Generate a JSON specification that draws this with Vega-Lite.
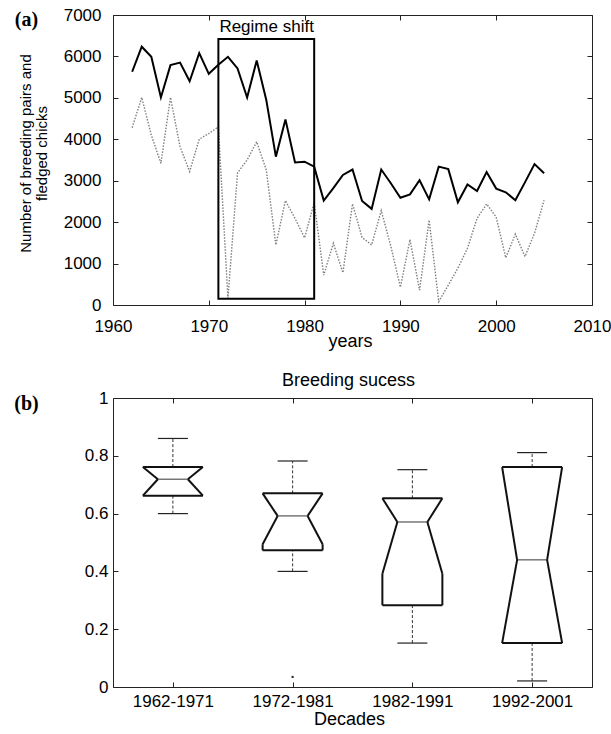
{
  "$schema": "https://vega.github.io/schema/vega-lite/v6.json",
  "padding": {"left": 13, "top": 6, "right": 0, "bottom": 0},
  "spacing": 21,
  "config": {
    "font": "Liberation Sans",
    "view": {"stroke": null},
    "axis": {
      "grid": false,
      "domainColor": "#222",
      "domainWidth": 1,
      "tickColor": "#222",
      "tickSize": -5,
      "labelFont": "Liberation Sans",
      "labelFontSize": 17,
      "labelColor": "#000",
      "titleFont": "Liberation Sans",
      "titleFontSize": 18,
      "titleFontWeight": "normal",
      "titleColor": "#000"
    }
  },
  "datasets": {
    "pairs": [
      {"year": 1962, "breeding_pairs": 5630, "fledged_chicks": 4280},
      {"year": 1963, "breeding_pairs": 6235, "fledged_chicks": 5010},
      {"year": 1964, "breeding_pairs": 5990, "fledged_chicks": 4100},
      {"year": 1965, "breeding_pairs": 5010, "fledged_chicks": 3420},
      {"year": 1966, "breeding_pairs": 5790, "fledged_chicks": 5010},
      {"year": 1967, "breeding_pairs": 5850, "fledged_chicks": 3820},
      {"year": 1968, "breeding_pairs": 5400, "fledged_chicks": 3220},
      {"year": 1969, "breeding_pairs": 6080, "fledged_chicks": 4000},
      {"year": 1970, "breeding_pairs": 5580, "fledged_chicks": 4140},
      {"year": 1971, "breeding_pairs": 5800, "fledged_chicks": 4300},
      {"year": 1972, "breeding_pairs": 5990, "fledged_chicks": 160},
      {"year": 1973, "breeding_pairs": 5710, "fledged_chicks": 3190},
      {"year": 1974, "breeding_pairs": 5010, "fledged_chicks": 3500},
      {"year": 1975, "breeding_pairs": 5900, "fledged_chicks": 3940},
      {"year": 1976, "breeding_pairs": 4950, "fledged_chicks": 3260},
      {"year": 1977, "breeding_pairs": 3580, "fledged_chicks": 1450},
      {"year": 1978, "breeding_pairs": 4480, "fledged_chicks": 2520},
      {"year": 1979, "breeding_pairs": 3440, "fledged_chicks": 2090},
      {"year": 1980, "breeding_pairs": 3460, "fledged_chicks": 1620},
      {"year": 1981, "breeding_pairs": 3340, "fledged_chicks": 2470},
      {"year": 1982, "breeding_pairs": 2520, "fledged_chicks": 720},
      {"year": 1983, "breeding_pairs": 2820, "fledged_chicks": 1490},
      {"year": 1984, "breeding_pairs": 3140, "fledged_chicks": 780},
      {"year": 1985, "breeding_pairs": 3270, "fledged_chicks": 2440},
      {"year": 1986, "breeding_pairs": 2510, "fledged_chicks": 1630},
      {"year": 1987, "breeding_pairs": 2320, "fledged_chicks": 1450},
      {"year": 1988, "breeding_pairs": 3270, "fledged_chicks": 2280},
      {"year": 1989, "breeding_pairs": 2940, "fledged_chicks": 1420},
      {"year": 1990, "breeding_pairs": 2590, "fledged_chicks": 430},
      {"year": 1991, "breeding_pairs": 2670, "fledged_chicks": 1580},
      {"year": 1992, "breeding_pairs": 3010, "fledged_chicks": 360},
      {"year": 1993, "breeding_pairs": 2550, "fledged_chicks": 2050},
      {"year": 1994, "breeding_pairs": 3340, "fledged_chicks": 80},
      {"year": 1995, "breeding_pairs": 3280, "fledged_chicks": 480},
      {"year": 1996, "breeding_pairs": 2480, "fledged_chicks": 890},
      {"year": 1997, "breeding_pairs": 2910, "fledged_chicks": 1370},
      {"year": 1998, "breeding_pairs": 2750, "fledged_chicks": 2090},
      {"year": 1999, "breeding_pairs": 3210, "fledged_chicks": 2440},
      {"year": 2000, "breeding_pairs": 2810, "fledged_chicks": 2120},
      {"year": 2001, "breeding_pairs": 2720, "fledged_chicks": 1140},
      {"year": 2002, "breeding_pairs": 2530, "fledged_chicks": 1710},
      {"year": 2003, "breeding_pairs": 2960, "fledged_chicks": 1170},
      {"year": 2004, "breeding_pairs": 3400, "fledged_chicks": 1730},
      {"year": 2005, "breeding_pairs": 3180, "fledged_chicks": 2530}
    ],
    "regime": [
      {"start": 1971, "end": 1981, "low": 150, "high": 6420, "label": "Regime shift"}
    ],
    "stats": [
      {"decade": "1962-1971", "whisker_low": 0.60, "q1": 0.662, "notch_low": 0.662, "median": 0.719, "notch_high": 0.761, "q3": 0.761, "whisker_high": 0.86},
      {"decade": "1972-1981", "whisker_low": 0.40, "q1": 0.473, "notch_low": 0.494, "median": 0.592, "notch_high": 0.670, "q3": 0.670, "whisker_high": 0.782},
      {"decade": "1982-1991", "whisker_low": 0.152, "q1": 0.283, "notch_low": 0.392, "median": 0.571, "notch_high": 0.653, "q3": 0.653, "whisker_high": 0.752},
      {"decade": "1992-2001", "whisker_low": 0.021, "q1": 0.152, "notch_low": 0.152, "median": 0.440, "notch_high": 0.761, "q3": 0.761, "whisker_high": 0.811}
    ],
    "outliers": [
      {"decade": "1972-1981", "value": 0.035}
    ]
  },
  "vconcat": [
    {
      "width": 479,
      "height": 290,
      "resolve": {"axis": {"x": "independent", "y": "independent"}},
      "layer": [
        {
          "data": {"name": "pairs"},
          "mark": {"type": "line", "color": "#000", "strokeWidth": 2},
          "encoding": {
            "x": {"field": "year", "type": "quantitative",
                  "scale": {"domain": [1960, 2010], "nice": false, "zero": false},
                  "axis": {"orient": "bottom", "values": [1960, 1970, 1980, 1990, 2000, 2010], "format": "d",
                           "labelFlush": false, "labelPadding": 18,
                           "title": "years", "titleBaseline": "alphabetic", "titleX": 237, "titleY": 41}},
            "y": {"field": "breeding_pairs", "type": "quantitative",
                  "scale": {"domain": [0, 7000], "nice": false},
                  "axis": {"orient": "left", "values": [0, 1000, 2000, 3000, 4000, 5000, 6000, 7000], "format": "d",
                           "labelPadding": 17,
                           "title": ["Number of breeding pairs and", "fledged chicks"],
                           "titleFontSize": 15, "titleLineHeight": 16, "titleAngle": -90,
                           "titleBaseline": "middle", "titleAlign": "center", "titleX": -88, "titleY": 138}}
          }
        },
        {
          "data": {"name": "pairs"},
          "mark": {"type": "line", "color": "#7f7f7f", "strokeWidth": 1.4, "strokeDash": [1.5, 1.5]},
          "encoding": {
            "x": {"field": "year", "type": "quantitative",
                  "axis": {"orient": "top", "values": [1960, 1970, 1980, 1990, 2000, 2010], "labels": false,
                           "title": "(a)", "titleFont": "Liberation Serif", "titleFontWeight": "bold", "titleFontSize": 20,
                           "titleAngle": 0, "titleAlign": "center", "titleBaseline": "middle", "titleX": -87, "titleY": 4}},
            "y": {"field": "fledged_chicks", "type": "quantitative",
                  "axis": {"orient": "right", "values": [0, 1000, 2000, 3000, 4000, 5000, 6000, 7000], "labels": false, "title": null}}
          }
        },
        {
          "data": {"name": "regime"},
          "mark": {"type": "rect", "fill": null, "fillOpacity": 0, "stroke": "#000", "strokeWidth": 2},
          "encoding": {
            "x": {"field": "start", "type": "quantitative", "axis": null},
            "x2": {"field": "end"},
            "y": {"field": "low", "type": "quantitative", "axis": null},
            "y2": {"field": "high"}
          }
        },
        {
          "data": {"name": "regime"},
          "mark": {"type": "text", "align": "left", "baseline": "alphabetic", "dx": 1, "dy": -7, "fontSize": 17, "font": "Liberation Sans", "color": "#000"},
          "encoding": {
            "x": {"field": "start", "type": "quantitative", "axis": null},
            "y": {"field": "high", "type": "quantitative", "axis": null},
            "text": {"field": "label"}
          }
        }
      ]
    },
    {
      "width": 479,
      "height": 289,
      "data": {"name": "stats"},
      "resolve": {"axis": {"x": "independent", "y": "independent"}},
      "layer": [
        {
          "mark": {"type": "rule", "color": "#333", "strokeWidth": 1, "strokeDash": [3, 2]},
          "encoding": {
            "x": {"field": "decade", "type": "nominal", "sort": null,
                  "scale": {"type": "point", "padding": 0.5},
                  "axis": {"orient": "bottom", "labelAngle": 0, "labelPadding": 11,
                           "title": "Decades", "titleBaseline": "alphabetic", "titleX": 236, "titleY": 37}},
            "y": {"field": "whisker_low", "type": "quantitative",
                  "scale": {"domain": [0, 1], "nice": false},
                  "axis": {"orient": "left", "values": [0, 0.2, 0.4, 0.6, 0.8, 1], "format": "~g", "labelPadding": 10,
                           "title": "(b)", "titleFont": "Liberation Serif", "titleFontWeight": "bold", "titleFontSize": 20,
                           "titleAngle": 0, "titleAlign": "center", "titleBaseline": "middle", "titleX": -87, "titleY": 5}},
            "y2": {"field": "q1"}
          }
        },
        {
          "mark": {"type": "rule", "color": "#333", "strokeWidth": 1, "strokeDash": [3, 2]},
          "encoding": {
            "x": {"field": "decade", "type": "nominal", "sort": null,
                  "axis": {"orient": "top", "labels": false,
                           "title": "Breeding sucess", "titleBaseline": "alphabetic", "titleAngle": 0, "titleAlign": "center",
                           "titleX": 235, "titleY": -12.5}},
            "y": {"field": "q3", "type": "quantitative",
                  "axis": {"orient": "right", "values": [0, 0.2, 0.4, 0.6, 0.8, 1], "labels": false, "title": null}},
            "y2": {"field": "whisker_high"}
          }
        },
        {
          "mark": {"type": "rule", "color": "#222", "strokeWidth": 1.2, "xOffset": -15, "x2Offset": 15},
          "encoding": {
            "x": {"field": "decade", "type": "nominal", "sort": null, "axis": null},
            "x2": {"field": "decade"},
            "y": {"field": "whisker_low", "type": "quantitative", "axis": null}
          }
        },
        {
          "mark": {"type": "rule", "color": "#222", "strokeWidth": 1.2, "xOffset": -15, "x2Offset": 15},
          "encoding": {
            "x": {"field": "decade", "type": "nominal", "sort": null, "axis": null},
            "x2": {"field": "decade"},
            "y": {"field": "whisker_high", "type": "quantitative", "axis": null}
          }
        },
        {
          "mark": {"type": "rule", "color": "#111", "strokeWidth": 2, "xOffset": -30, "x2Offset": 30},
          "encoding": {
            "x": {"field": "decade", "type": "nominal", "sort": null, "axis": null},
            "x2": {"field": "decade"},
            "y": {"field": "q1", "type": "quantitative", "axis": null}
          }
        },
        {
          "mark": {"type": "rule", "color": "#111", "strokeWidth": 2, "xOffset": -30, "x2Offset": 30},
          "encoding": {
            "x": {"field": "decade", "type": "nominal", "sort": null, "axis": null},
            "x2": {"field": "decade"},
            "y": {"field": "q3", "type": "quantitative", "axis": null}
          }
        },
        {
          "mark": {"type": "rule", "color": "#555", "strokeWidth": 1.2, "xOffset": -15, "x2Offset": 15},
          "encoding": {
            "x": {"field": "decade", "type": "nominal", "sort": null, "axis": null},
            "x2": {"field": "decade"},
            "y": {"field": "median", "type": "quantitative", "axis": null}
          }
        },
        {
          "mark": {"type": "rule", "color": "#111", "strokeWidth": 2, "xOffset": -30, "x2Offset": -30},
          "encoding": {
            "x": {"field": "decade", "type": "nominal", "sort": null, "axis": null},
            "x2": {"field": "decade"},
            "y": {"field": "q1", "type": "quantitative", "axis": null},
            "y2": {"field": "notch_low"}
          }
        },
        {
          "mark": {"type": "rule", "color": "#111", "strokeWidth": 2, "xOffset": 30, "x2Offset": 30},
          "encoding": {
            "x": {"field": "decade", "type": "nominal", "sort": null, "axis": null},
            "x2": {"field": "decade"},
            "y": {"field": "q1", "type": "quantitative", "axis": null},
            "y2": {"field": "notch_low"}
          }
        },
        {
          "mark": {"type": "rule", "color": "#111", "strokeWidth": 2, "xOffset": -30, "x2Offset": -30},
          "encoding": {
            "x": {"field": "decade", "type": "nominal", "sort": null, "axis": null},
            "x2": {"field": "decade"},
            "y": {"field": "notch_high", "type": "quantitative", "axis": null},
            "y2": {"field": "q3"}
          }
        },
        {
          "mark": {"type": "rule", "color": "#111", "strokeWidth": 2, "xOffset": 30, "x2Offset": 30},
          "encoding": {
            "x": {"field": "decade", "type": "nominal", "sort": null, "axis": null},
            "x2": {"field": "decade"},
            "y": {"field": "notch_high", "type": "quantitative", "axis": null},
            "y2": {"field": "q3"}
          }
        },
        {
          "mark": {"type": "rule", "color": "#111", "strokeWidth": 2, "xOffset": -30, "x2Offset": -15},
          "encoding": {
            "x": {"field": "decade", "type": "nominal", "sort": null, "axis": null},
            "x2": {"field": "decade"},
            "y": {"field": "notch_high", "type": "quantitative", "axis": null},
            "y2": {"field": "median"}
          }
        },
        {
          "mark": {"type": "rule", "color": "#111", "strokeWidth": 2, "xOffset": 30, "x2Offset": 15},
          "encoding": {
            "x": {"field": "decade", "type": "nominal", "sort": null, "axis": null},
            "x2": {"field": "decade"},
            "y": {"field": "notch_high", "type": "quantitative", "axis": null},
            "y2": {"field": "median"}
          }
        },
        {
          "mark": {"type": "rule", "color": "#111", "strokeWidth": 2, "xOffset": -30, "x2Offset": -15},
          "encoding": {
            "x": {"field": "decade", "type": "nominal", "sort": null, "axis": null},
            "x2": {"field": "decade"},
            "y": {"field": "notch_low", "type": "quantitative", "axis": null},
            "y2": {"field": "median"}
          }
        },
        {
          "mark": {"type": "rule", "color": "#111", "strokeWidth": 2, "xOffset": 30, "x2Offset": 15},
          "encoding": {
            "x": {"field": "decade", "type": "nominal", "sort": null, "axis": null},
            "x2": {"field": "decade"},
            "y": {"field": "notch_low", "type": "quantitative", "axis": null},
            "y2": {"field": "median"}
          }
        },
        {
          "data": {"name": "outliers"},
          "mark": {"type": "point", "filled": true, "color": "#333", "size": 6, "opacity": 1},
          "encoding": {
            "x": {"field": "decade", "type": "nominal", "sort": null, "axis": null},
            "y": {"field": "value", "type": "quantitative", "axis": null}
          }
        }
      ]
    }
  ]
}
